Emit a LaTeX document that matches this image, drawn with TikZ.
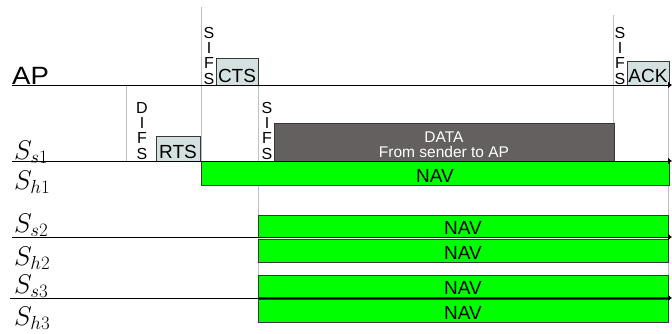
\RequirePackage{fix-cm}
\documentclass[tikz,border=0pt]{standalone}
\usepackage{fontspec}
\setmainfont{Liberation Sans}
\usetikzlibrary{arrows.meta}

\definecolor{ctrlfill}{RGB}{212,225,225}
\definecolor{datafill}{RGB}{100,96,96}
\definecolor{navgreen}{RGB}{0,255,0}
\definecolor{boxedge}{RGB}{55,55,55}

\begin{document}
\begin{tikzpicture}[x=1pt,y=-1pt,
  axis/.style={line width=1pt, -{Latex[length=4pt,width=7pt]}},
  guide/.style={draw=gray!50, line width=0.8pt},
  frame/.style={draw=boxedge, line width=0.9pt, inner sep=0pt, outer sep=0pt, anchor=south west},
  ctrl/.style={frame, fill=ctrlfill},
  nav/.style={frame, fill=navgreen},
  databox/.style={frame, fill=datafill},
  boxtxt/.style={font=\fontsize{19}{20}\selectfont, anchor=base, inner sep=0pt, yshift=2.5pt},
  gaptxt/.style={font=\fontsize{16}{15.2}\selectfont, align=center, anchor=south, inner sep=0pt},
  stn/.style={font=\fontsize{27}{30}\selectfont, anchor=base west, inner sep=0pt},
]
\useasboundingbox (0,0) rectangle (672,333);

% timing guides
\draw[guide] (126,85) -- (126,161);
\draw[guide] (201,7) -- (201,161);
\draw[guide] (258,85) -- (258,322);
\draw[guide] (613,15) -- (613,161);
\draw[guide] (668,85) -- (668,322);

% frames on the AP line
\node[ctrl, minimum width=42pt, minimum height=27pt] (cts) at (216,85) {};
\node[boxtxt] (ctsT) at (cts.south) {CTS};
\node[ctrl, minimum width=42pt, minimum height=24pt] (ack) at (627,85) {};
\node[boxtxt] (ackT) at (ack.south) {ACK};

% frames of the sender
\node[ctrl, minimum width=44pt, minimum height=25pt] (rts) at (156,161) {};
\node[boxtxt] (rtsT) at (rts.south) {RTS};
\node[databox, minimum width=340pt, minimum height=38pt] (data) at (274,161) {};
\node[font=\fontsize{15.5}{17}\selectfont, text=white, anchor=base, inner sep=0pt] (dataA) at (444,142) {DATA};
\node[font=\fontsize{15.5}{17}\selectfont, text=white, anchor=base, inner sep=0pt] (dataB) at (444,157) {From sender to AP};

% NAV periods
\node[nav, minimum width=468pt, minimum height=24pt] (navh1) at (201,185) {};
\node[boxtxt] (navh1T) at (navh1.south) {NAV};
\node[nav, minimum width=410pt, minimum height=22pt] (navs2) at (258,237) {};
\node[boxtxt] (navs2T) at (navs2.south) {NAV};
\node[nav, minimum width=410pt, minimum height=23pt] (navh2) at (258,262) {};
\node[boxtxt] (navh2T) at (navh2.south) {NAV};
\node[nav, minimum width=410pt, minimum height=22pt] (navs3) at (258,297) {};
\node[boxtxt] (navs3T) at (navs3.south) {NAV};
\node[nav, minimum width=410pt, minimum height=23pt] (navh3) at (258,322) {};
\node[boxtxt] (navh3T) at (navh3.south) {NAV};

% inter-frame spaces
\node[gaptxt] (difs) at (142,159.5) {D\\I\\F\\S};
\node[gaptxt] (sifsA) at (209,84.5) {S\\I\\F\\S};
\node[gaptxt] (sifsB) at (267,159.5) {S\\I\\F\\S};
\node[gaptxt] (sifsC) at (620,84.5) {S\\I\\F\\S};

% time axes
\coordinate (apL) at (12,85);  \coordinate (apR) at (672,85);
\coordinate (s1L) at (12,161); \coordinate (s1R) at (672,161);
\coordinate (s2L) at (12,237); \coordinate (s2R) at (672,237);
\coordinate (s3L) at (10,298); \coordinate (s3R) at (672,298);
\draw[axis] (apL) -- (apR);
\draw[axis] (s1L) -- (s1R);
\draw[axis] (s2L) -- (s2R);
\draw[axis] (s3L) -- (s3R);

% station labels
\node[font=\fontsize{25}{28}\selectfont, anchor=base west, inner sep=0pt, xscale=1.1] (ap) at (12,84) {AP};
\node[stn] (ss1) at (14,159) {$S_{s1}$};
\node[stn] (sh1) at (14,189) {$S_{h1}$};
\node[stn] (ss2) at (14,232) {$S_{s2}$};
\node[stn] (sh2) at (14,265) {$S_{h2}$};
\node[stn] (ss3) at (14,293) {$S_{s3}$};
\node[stn] (sh3) at (14,325) {$S_{h3}$};
\end{tikzpicture}
\end{document}
